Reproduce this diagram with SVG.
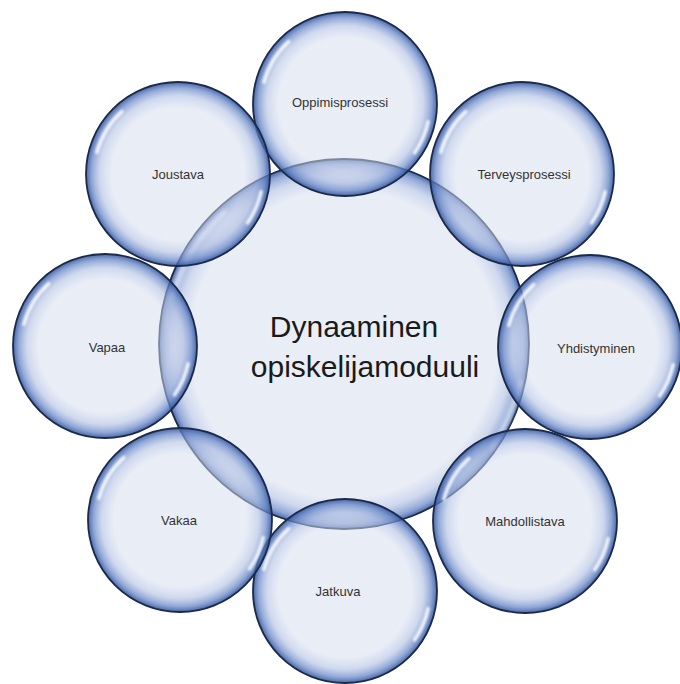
<svg xmlns="http://www.w3.org/2000/svg" xmlns:xlink="http://www.w3.org/1999/xlink" width="680" height="684" viewBox="0 0 680 684">
  <defs>
    <radialGradient id="bub" cx="50%" cy="50%" r="50%">
      <stop offset="0%" stop-color="#D6DDEF" stop-opacity="0.52"/>
      <stop offset="72%" stop-color="#D6DDEF" stop-opacity="0.52"/>
      <stop offset="85%" stop-color="#AEBEE2" stop-opacity="0.6"/>
      <stop offset="94%" stop-color="#6787C8" stop-opacity="0.74"/>
      <stop offset="99%" stop-color="#3A5BA2" stop-opacity="0.86"/>
      <stop offset="100%" stop-color="#2A467F" stop-opacity="0.9"/>
    </radialGradient>
    <radialGradient id="bubc" cx="50%" cy="50%" r="50%">
      <stop offset="0%" stop-color="#D6DDEF" stop-opacity="0.52"/>
      <stop offset="83%" stop-color="#D6DDEF" stop-opacity="0.52"/>
      <stop offset="91%" stop-color="#AEBEE2" stop-opacity="0.6"/>
      <stop offset="97%" stop-color="#6787C8" stop-opacity="0.74"/>
      <stop offset="99.5%" stop-color="#3A5BA2" stop-opacity="0.86"/>
      <stop offset="100%" stop-color="#2A467F" stop-opacity="0.9"/>
    </radialGradient>
    <filter id="soft" x="-30%" y="-30%" width="160%" height="160%">
      <feGaussianBlur stdDeviation="1.1"/>
    </filter>
    <g id="hl" filter="url(#soft)">
      <path d="M -81.1 -21.7 A 84 84 0 0 1 -56.2 -62.4"/>
      <path d="M 83.1 17.7 A 85 85 0 0 1 69.6 48.8"/>
    </g>
  </defs>
  <style>
    .b { fill: url(#bub); stroke: #1B2A48; stroke-width: 1.8; }
    .bc { fill: url(#bubc); stroke: #1B2A48; stroke-width: 1.8; }
    .h { fill: none; stroke: #FFFFFF; stroke-width: 3.5; stroke-linecap: round; stroke-opacity: 0.85; }
    .t { font-family: "Liberation Sans", Arial, sans-serif; font-size: 13px; fill: #333333; text-anchor: middle; dominant-baseline: central; }
    .c { font-family: "Liberation Sans", Arial, sans-serif; font-size: 30px; fill: #1A1A1A; text-anchor: middle; }
  </style>
  <rect width="680" height="684" fill="#FFFFFF"/>
  <g id="connectors"></g>
  <g id="center" transform="translate(344,344)">
    <circle class="bc" r="185"/>
    <g transform="scale(2.12)">
      <use xlink:href="#hl" class="h" style="stroke-width:1.6"/>
    </g>
    <text class="c" x="10" y="-7">Dynaaminen</text>
    <text class="c" x="21" y="33">opiskelijamoduuli</text>
  </g>
  <g id="oppimisprosessi" transform="translate(345,104)">
    <circle class="b" r="92"/>
    <use xlink:href="#hl" class="h"/>
    <text class="t" x="-5" y="-2">Oppimisprosessi</text>
  </g>
  <g id="terveysprosessi" transform="translate(522,174)">
    <circle class="b" r="92"/>
    <use xlink:href="#hl" class="h"/>
    <text class="t" x="2" y="0">Terveysprosessi</text>
  </g>
  <g id="yhdistyminen" transform="translate(590,347)">
    <circle class="b" r="92"/>
    <use xlink:href="#hl" class="h"/>
    <text class="t" x="6" y="1">Yhdistyminen</text>
  </g>
  <g id="mahdollistava" transform="translate(525,521)">
    <circle class="b" r="92"/>
    <use xlink:href="#hl" class="h"/>
    <text class="t" x="0" y="0">Mahdollistava</text>
  </g>
  <g id="jatkuva" transform="translate(345,591)">
    <circle class="b" r="92"/>
    <use xlink:href="#hl" class="h"/>
    <text class="t" x="-7" y="0">Jatkuva</text>
  </g>
  <g id="vakaa" transform="translate(180,520)">
    <circle class="b" r="92"/>
    <use xlink:href="#hl" class="h"/>
    <text class="t" x="-1" y="0">Vakaa</text>
  </g>
  <g id="vapaa" transform="translate(105,346)">
    <circle class="b" r="92"/>
    <use xlink:href="#hl" class="h"/>
    <text class="t" x="2" y="1">Vapaa</text>
  </g>
  <g id="joustava" transform="translate(178,174)">
    <circle class="b" r="92"/>
    <use xlink:href="#hl" class="h"/>
    <text class="t" x="0" y="0">Joustava</text>
  </g>
</svg>
